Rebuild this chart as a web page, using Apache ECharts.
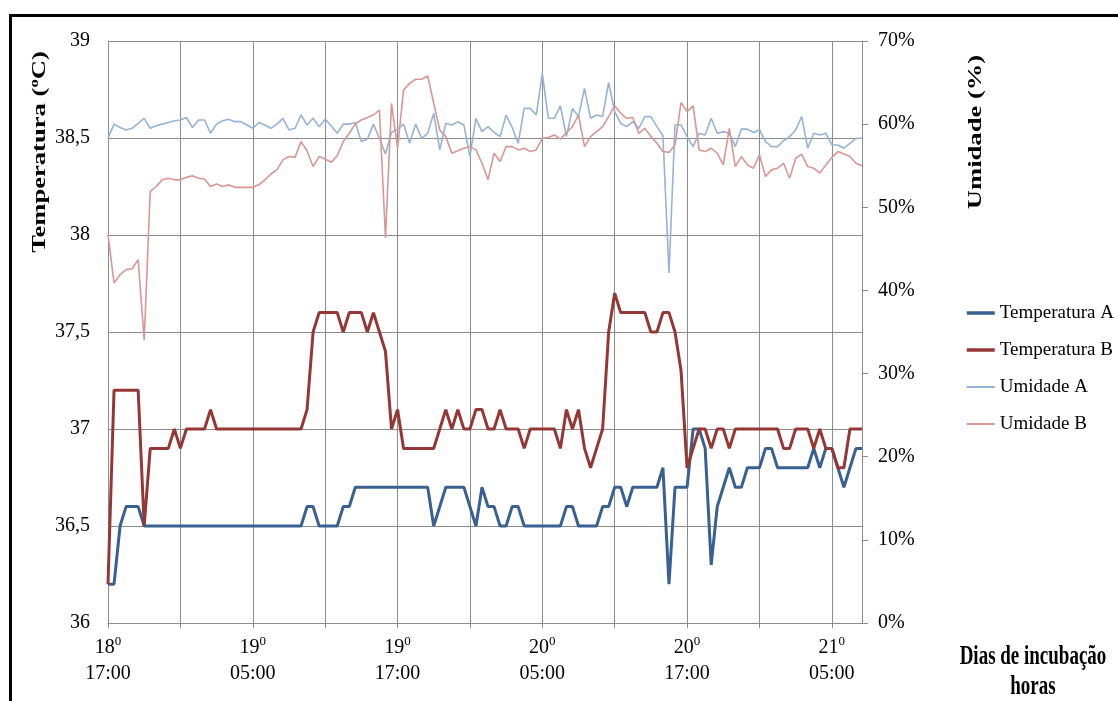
<!DOCTYPE html>
<html>
<head>
<meta charset="utf-8">
<script src="https://cdn.jsdelivr.net/npm/echarts@6/dist/echarts.min.js"></script>
<style>
html,body{margin:0;padding:0;background:#fff;}
#c{width:1118px;height:701px;}
</style>
</head>
<body>
<div id="c"></div>
<script>
// Categories: readings every 30 minutes, "day hh:mm"
const categories = [
'18 17:00','18 17:30','18 18:00','18 18:30','18 19:00','18 19:30','18 20:00','18 20:30','18 21:00','18 21:30','18 22:00','18 22:30','18 23:00','18 23:30',
'19 00:00','19 00:30','19 01:00','19 01:30','19 02:00','19 02:30','19 03:00','19 03:30','19 04:00','19 04:30','19 05:00','19 05:30',
'19 06:00','19 06:30','19 07:00','19 07:30','19 08:00','19 08:30','19 09:00','19 09:30','19 10:00','19 10:30','19 11:00','19 11:30',
'19 12:00','19 12:30','19 13:00','19 13:30','19 14:00','19 14:30','19 15:00','19 15:30','19 16:00','19 16:30','19 17:00','19 17:30',
'19 18:00','19 18:30','19 19:00','19 19:30','19 20:00','19 20:30','19 21:00','19 21:30','19 22:00','19 22:30','19 23:00','19 23:30',
'20 00:00','20 00:30','20 01:00','20 01:30','20 02:00','20 02:30','20 03:00','20 03:30','20 04:00','20 04:30','20 05:00','20 05:30',
'20 06:00','20 06:30','20 07:00','20 07:30','20 08:00','20 08:30','20 09:00','20 09:30','20 10:00','20 10:30','20 11:00','20 11:30',
'20 12:00','20 12:30','20 13:00','20 13:30','20 14:00','20 14:30','20 15:00','20 15:30','20 16:00','20 16:30','20 17:00','20 17:30',
'20 18:00','20 18:30','20 19:00','20 19:30','20 20:00','20 20:30','20 21:00','20 21:30','20 22:00','20 22:30','20 23:00','20 23:30',
'21 00:00','21 00:30','21 01:00','21 01:30','21 02:00','21 02:30','21 03:00','21 03:30','21 04:00','21 04:30','21 05:00','21 05:30',
'21 06:00','21 06:30','21 07:00','21 07:30'
];

// Labelled ticks on the x axis
const tickCategories = ['18 17:00','19 05:00','19 17:00','20 05:00','20 17:00','21 05:00'];
// categories between vertical grid lines
const gridEvery = 12;

const seriesNames = ['Temperatura A','Temperatura B','Umidade A','Umidade B'];

// Temperatura A (°C)
const temperaturaA = [
36.2,36.2,36.5,36.6,36.6,36.6,
36.5,36.5,36.5,36.5,36.5,36.5,36.5,36.5,36.5,36.5,
36.5,36.5,36.5,36.5,36.5,36.5,36.5,36.5,36.5,36.5,
36.5,36.5,36.5,36.5,36.5,36.5,36.5,
36.6,36.6,36.5,36.5,36.5,36.5,36.6,36.6,
36.7,36.7,36.7,36.7,36.7,36.7,36.7,36.7,36.7,36.7,36.7,36.7,36.7,
36.5,36.6,36.7,36.7,36.7,36.7,36.6,36.5,36.7,36.6,
36.6,36.5,36.5,36.6,36.6,36.5,36.5,36.5,36.5,36.5,
36.5,36.5,36.6,36.6,36.5,36.5,36.5,36.5,36.6,36.6,
36.7,36.7,36.6,36.7,36.7,36.7,36.7,36.7,36.8,36.2,
36.7,36.7,36.7,37.0,37.0,36.9,36.3,36.6,36.7,36.8,
36.7,36.7,36.8,36.8,36.8,36.9,36.9,36.8,36.8,36.8,
36.8,36.8,36.8,36.9,36.8,36.9,36.9,36.8,36.7,36.8,
36.9,36.9
];

// Temperatura B (°C)
const temperaturaB = [
36.2,37.2,37.2,37.2,37.2,37.2,36.5,36.9,36.9,36.9,
36.9,37.0,36.9,37.0,37.0,37.0,37.0,37.1,37.0,37.0,
37.0,37.0,37.0,37.0,37.0,37.0,37.0,37.0,37.0,37.0,
37.0,37.0,37.0,37.1,37.5,37.6,37.6,37.6,37.6,37.5,
37.6,37.6,37.6,37.5,37.6,37.5,37.4,37.0,37.1,36.9,
36.9,36.9,36.9,36.9,36.9,37.0,37.1,37.0,37.1,37.0,
37.0,37.1,37.1,37.0,37.0,37.1,37.0,37.0,37.0,36.9,
37.0,37.0,37.0,37.0,37.0,36.9,37.1,37.0,37.1,36.9,
36.8,36.9,37.0,37.5,37.7,37.6,37.6,37.6,37.6,37.6,
37.5,37.5,37.6,37.6,37.5,37.3,36.8,36.9,37.0,37.0,
36.9,37.0,37.0,36.9,37.0,37.0,37.0,37.0,37.0,37.0,
37.0,37.0,36.9,36.9,37.0,37.0,37.0,36.9,37.0,36.9,
36.9,36.8,36.8,37.0,37.0,37.0
];

// Umidade A (%)
const umidadeA = [
58.3,60.0,59.6,59.3,59.5,60.1,60.7,59.5,59.8,60.0,
60.2,60.4,60.5,60.8,59.6,60.5,60.5,58.9,60.0,60.4,
60.6,60.3,60.3,59.9,59.5,60.2,59.9,59.5,60.0,60.7,
59.3,59.5,61.1,59.9,60.7,59.7,60.6,59.8,58.9,60.0,
60.0,60.2,57.9,58.2,60.0,58.3,56.4,59.0,59.4,60.0,
57.7,60.0,58.3,58.9,61.3,56.9,60.1,59.9,60.3,59.9,
56.1,60.7,59.1,59.7,59.0,58.5,61.1,59.6,57.7,61.9,
61.9,61.1,66.1,60.7,60.7,62.2,58.5,61.9,60.9,64.3,
60.7,61.1,60.9,65.0,61.5,60.1,59.7,60.3,59.5,60.9,
60.9,59.7,58.6,42.1,59.9,59.9,58.5,57.3,58.9,58.7,
60.7,58.9,59.1,58.9,57.3,59.4,59.4,59.0,59.3,57.9,
57.3,57.3,58.0,58.5,59.3,60.9,57.1,58.9,58.7,58.9,
57.5,57.5,57.1,57.7,58.3,58.3
];

// Umidade B (%)
const umidadeB = [
46.7,40.9,41.9,42.5,42.6,43.7,34.0,51.9,52.5,53.3,
53.5,53.3,53.3,53.6,53.8,53.5,53.4,52.5,52.8,52.5,
52.7,52.4,52.4,52.4,52.4,52.7,53.3,54.0,54.5,55.7,
56.1,56.0,57.9,56.8,54.9,56.1,55.8,55.4,56.2,57.9,
58.9,60.0,60.5,60.8,61.1,61.7,46.3,62.5,57.1,64.1,
64.9,65.4,65.4,65.8,62.5,59.3,58.5,56.5,56.8,57.1,
57.3,56.9,55.3,53.3,56.5,55.5,57.3,57.3,56.9,57.1,
56.7,56.9,58.3,58.4,58.7,58.2,59.0,59.7,61.1,57.3,
58.5,59.1,59.7,60.9,62.2,61.3,60.7,60.8,58.9,59.5,
58.5,57.7,56.7,56.6,57.5,62.6,61.5,62.2,56.9,56.7,
57.1,56.5,55.1,59.5,54.9,56.1,55.1,54.7,56.3,53.7,
54.5,54.7,55.3,53.5,55.9,56.4,54.9,54.7,54.1,55.1,
56.0,56.7,56.4,56.1,55.3,55.0
];

const serif = '"Liberation Serif", "Times New Roman", serif';
const gridColor = '#8c8c8c';
const colors = ['#386192', '#953735', '#95B3D7', '#D99694'];
const widths = [3, 3, 1.6, 1.6];
const legendWidths = [3.5, 3.5, 2, 2];

const chart = echarts.init(document.getElementById('c'), null, {renderer: 'canvas'});

const option = {
  animation: false,
  backgroundColor: '#ffffff',
  grid: {left: 108, top: 41, right: 256, bottom: 78, containLabel: false},
  legend: {
    orient: 'vertical',
    left: 960,
    top: 297,
    itemWidth: 28,
    itemHeight: 14,
    itemGap: 15,
    itemStyle: {opacity: 0},
    data: seriesNames.map(function (n, i) {
      return {name: n, itemStyle: {opacity: 0}, lineStyle: {width: legendWidths[i], color: colors[i]}};
    }),
    textStyle: {fontFamily: serif, fontSize: 19, color: '#000', lineHeight: 22}
  },
  xAxis: {
    type: 'category',
    data: categories,
    boundaryGap: false,
    axisLine: {show: true, lineStyle: {color: gridColor, width: 1}},
    axisTick: {show: true, length: 5, interval: function (i) { return i % gridEvery === 0; }, lineStyle: {color: gridColor}},
    splitLine: {show: true, interval: function (i) { return i % gridEvery === 0; }, lineStyle: {color: gridColor, width: 1}},
    axisLabel: {
      interval: function (i, v) { return tickCategories.indexOf(v) >= 0; },
      margin: 12,
      formatter: function (v) {
        const p = v.split(' ');
        return '{d|' + p[0] + '}{s|0}\n{h|' + p[1] + '}';
      },
      rich: {
        d: {fontFamily: serif, fontSize: 20, color: '#000', lineHeight: 26},
        s: {fontFamily: serif, fontSize: 13, color: '#000', verticalAlign: 'top', lineHeight: 14},
        h: {fontFamily: serif, fontSize: 20, color: '#000', lineHeight: 26}
      }
    }
  },
  yAxis: [
    {
      type: 'value', min: 36, max: 39, interval: 0.5, position: 'left',
      axisLine: {show: true, lineStyle: {color: gridColor}},
      axisTick: {show: false},
      splitLine: {show: true, lineStyle: {color: gridColor, width: 1}},
      axisLabel: {
        margin: 18, fontFamily: serif, fontSize: 20, color: '#000',
        formatter: function (v) { return String(v).replace('.', ','); }
      }
    },
    {
      type: 'value', min: 0, max: 70, interval: 10, position: 'right',
      axisLine: {show: true, lineStyle: {color: gridColor}},
      axisTick: {show: true, inside: false, length: 6, lineStyle: {color: gridColor}},
      splitLine: {show: false},
      axisLabel: {margin: 16, fontFamily: serif, fontSize: 20, color: '#000', formatter: '{value}%'}
    }
  ],
  series: [
    {name: seriesNames[0], type: 'line', yAxisIndex: 0, data: temperaturaA, symbol: 'none', showSymbol: false,
     lineStyle: {color: colors[0], width: widths[0]}, itemStyle: {color: colors[0]}},
    {name: seriesNames[1], type: 'line', yAxisIndex: 0, data: temperaturaB, symbol: 'none', showSymbol: false,
     lineStyle: {color: colors[1], width: widths[1]}, itemStyle: {color: colors[1]}},
    {name: seriesNames[2], type: 'line', yAxisIndex: 1, data: umidadeA, symbol: 'none', showSymbol: false,
     lineStyle: {color: colors[2], width: widths[2]}, itemStyle: {color: colors[2]}},
    {name: seriesNames[3], type: 'line', yAxisIndex: 1, data: umidadeB, symbol: 'none', showSymbol: false,
     lineStyle: {color: colors[3], width: widths[3]}, itemStyle: {color: colors[3]}}
  ],
  graphic: [
    {type: 'rect', silent: true, z: 100,
     shape: {x: 10.5, y: 15.5, width: 1300, height: 900},
     style: {fill: 'none', stroke: '#000', lineWidth: 3}},
    {type: 'text', x: 40, y: 152, rotation: Math.PI / 2, scaleX: 1.4, z: 100,
     style: {text: '{b|Temperatura (}{s|o}{b|C)}', align: 'center', verticalAlign: 'middle',
       rich: {b: {font: 'bold 19px ' + serif, fill: '#000', lineHeight: 22},
              s: {font: 'bold 12px ' + serif, fill: '#000', verticalAlign: 'top', lineHeight: 13}}}},
    {type: 'text', x: 976, y: 132, rotation: Math.PI / 2, scaleX: 1.4, z: 100,
     style: {text: 'Umidade (%)', font: 'bold 19px ' + serif, fill: '#000', align: 'center', verticalAlign: 'middle'}},
    {type: 'text', x: 1033, y: 672, scaleY: 1.4, z: 100,
     style: {text: 'Dias de incubação\nhoras', font: 'bold 19px ' + serif, fill: '#000', align: 'center', verticalAlign: 'middle', lineHeight: 21}}
  ]
};

chart.setOption(option);
</script>
</body>
</html>
